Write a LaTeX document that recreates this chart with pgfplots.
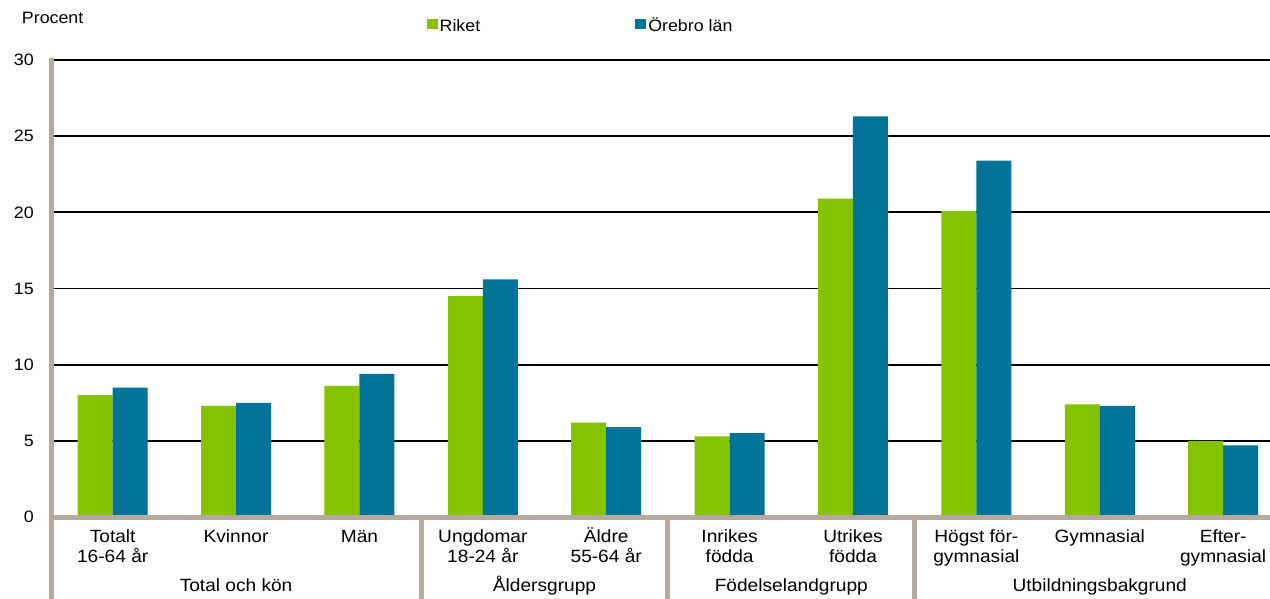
\documentclass[border=0pt]{standalone}
\usepackage{pgfplots}
\pgfplotsset{compat=1.18}
\usepackage{fontspec}
\setmainfont{Liberation Sans}[FakeStretch=1.08]
\definecolor{riket}{HTML}{85C200}
\definecolor{orebro}{HTML}{007396}
\definecolor{axgray}{HTML}{B4AA9E}
\newcommand{\ticksize}{\fontsize{16.5}{19}\selectfont}
\newcommand{\catsize}{\fontsize{17.7}{20.7}\selectfont}

\begin{document}
\begin{tikzpicture}
\useasboundingbox (0,0) rectangle (1270pt,598pt);
\begin{axis}[
    at={(51pt,81pt)}, anchor=south west,
    scale only axis, width=1219pt, height=457pt,
    xmin=-0.5, xmax=9.38, ymin=0, ymax=30,
    ybar=0pt, bar width=35pt,
    axis line style={draw=none},
    xtick={0,...,9},
    % every label has two lines, so that the base anchor is always the second line
    xticklabels={{Totalt\\16-64 år}, {Kvinnor\\\strut}, {Män\\\strut}, {Ungdomar\\18-24 år},
        {Äldre\\55-64 år}, {Inrikes\\födda}, {Utrikes\\födda}, {Högst för-\\gymnasial},
        {Gymnasial\\\strut}, {Efter-\\gymnasial}},
    ytick={0,5,...,30},
    major tick length=0pt,
    ymajorgrids, grid style={black, line width=1.8pt},
    xticklabel style={font=\catsize, align=center, anchor=base, inner sep=0pt, yshift=-45.7pt},
    yticklabel style={font=\ticksize, anchor=east, inner sep=0pt, xshift=-17pt},
    /pgf/number format/assume math mode=true,
    clip=false,
    legend columns=2,
    legend style={draw=none, fill=none, font=\ticksize, at={(0.308,1.0733)}, anchor=west,
        inner sep=0pt, nodes={inner xsep=2pt, inner ysep=0pt, text height=12pt, text depth=3pt}},
    legend image code/.code={\fill[#1] (0pt,-2.5pt) rectangle (11pt,8pt);},
]
\addplot[fill=riket, draw=none] coordinates {(0,8.0) (1,7.3) (2,8.6) (3,14.5) (4,6.2) (5,5.3) (6,20.9) (7,20.1) (8,7.4) (9,5.0)};
\addlegendentry{Riket\hspace*{153pt}}
\addplot[fill=orebro, draw=none] coordinates {(0,8.5) (1,7.5) (2,9.4) (3,15.6) (4,5.9) (5,5.5) (6,26.3) (7,23.4) (8,7.3) (9,4.7)};
\addlegendentry{Örebro län}

% axis lines and group separators
\draw[axgray, line width=5pt] (axis cs:-0.5,0) -- (axis cs:10,0);
\draw[axgray, line width=5pt] ([yshift=2pt]axis cs:-0.5,30) -- ([yshift=-90pt]axis cs:-0.5,0);
\draw[axgray, line width=5pt] (axis cs:2.5,0) -- ([yshift=-90pt]axis cs:2.5,0);
\draw[axgray, line width=5pt] (axis cs:4.5,0) -- ([yshift=-90pt]axis cs:4.5,0);
\draw[axgray, line width=5pt] (axis cs:6.5,0) -- ([yshift=-90pt]axis cs:6.5,0);

% group names
\node[anchor=base, font=\catsize, inner sep=0pt] at ([yshift=-74.7pt]axis cs:1,0) {Total och kön};
\node[anchor=base, font=\catsize, inner sep=0pt] at ([yshift=-74.7pt]axis cs:3.5,0) {Åldersgrupp};
\node[anchor=base, font=\catsize, inner sep=0pt] at ([yshift=-74.7pt]axis cs:5.5,0) {Födelselandgrupp};
\node[anchor=base, font=\catsize, inner sep=0pt] at ([yshift=-74.7pt]axis cs:8,0) {Utbildningsbakgrund};

\node[anchor=base west, font=\ticksize, inner sep=0pt] at (axis description cs:-0.024,1.0788) {Procent};
\end{axis}
\end{tikzpicture}
\end{document}
